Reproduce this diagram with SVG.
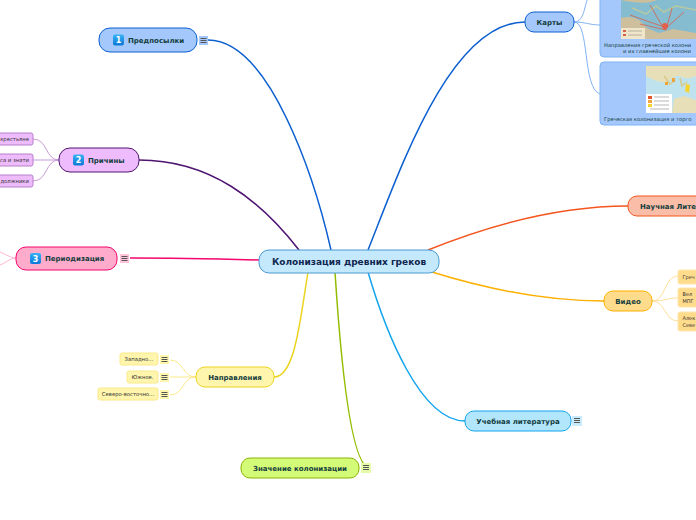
<svg xmlns="http://www.w3.org/2000/svg" width="696" height="520" viewBox="0 0 696 520">
<defs><linearGradient id="bd" x1="0" y1="0" x2="0" y2="1"><stop offset="0" stop-color="#38b2f4"/><stop offset="1" stop-color="#0b78d8"/></linearGradient></defs>
<style>
text{font-family:"DejaVu Sans",Verdana,sans-serif;fill:#143d3d}
.m{font-weight:bold;font-size:7px;text-anchor:middle}
.ml{font-weight:bold;font-size:7px}
.s{font-size:5.300px;text-anchor:middle;fill:#333}
.sl{font-size:5px;fill:#333}
.se{font-size:5.300px;text-anchor:end;fill:#333}
.cap{font-size:5.200px;fill:#143d3d}
.c{fill:none;stroke-width:1.500}
.t{fill:none;stroke-width:1}
.num{font-weight:bold;font-size:8px;fill:#fff;text-anchor:middle}
.b{fill:url(#bd)}
.ic{stroke:#555;stroke-width:1;fill:none}
</style>
<g id="connectors">
<path class="c" stroke="#0b5fd0" d="M331 250C315 180 270 40 208 40"/>
<path class="c" stroke="#4f1470" d="M299 250C260 200 210 160 139 160"/>
<path class="c" stroke="#f5056e" d="M259 260C220 259 170 258 130 258"/>
<path class="c" stroke="#ecd320" d="M308 272C300 320 295 377 274 377"/>
<path class="c" stroke="#93bc00" d="M335 272C340 350 350 468 370 468"/>
<path class="c" stroke="#12a5ee" d="M368 272C385 330 420 421 465 421"/>
<path class="c" stroke="#ffb000" d="M432 272C490 290 550 301 604 301"/>
<path class="c" stroke="#f4551e" d="M428 250C490 225 560 206 628 206"/>
<path class="c" stroke="#0b5fd0" d="M368 250C400 170 450 22 525 22"/>
<g class="t" stroke="#c79ad8">
<path d="M59 160C45 160 48 139 33 139"/><path d="M59 160H33"/><path d="M59 160C45 160 48 181 33 181"/>
</g>
<g class="t" stroke="#ffb6d5">
<path d="M16 258C10 258 6 254 0 252"/><path d="M16 258C10 258 6 263 0 265"/>
</g>
<g class="t" stroke="#fbe98a">
<path d="M196 377C182 377 184 360 170 360"/><path d="M196 377H170"/><path d="M196 377C182 377 184 395 170 395"/>
</g>
<g class="t" stroke="#7fb2f5">
<path d="M574 22C586 22 584 0 590 -5"/><path d="M574 22C585 22 590 25 600 25"/><path d="M574 22C590 22 582 88 600 94"/>
</g>
<g class="t" stroke="#ffdf9a">
<path d="M652 301C666 301 664 276 678 276"/><path d="M652 301C664 301 668 298 678 298"/><path d="M652 301C666 301 664 321 678 321"/>
</g>
</g>
<g id="center"><rect x="259" y="250" width="180" height="23" rx="10" fill="#c4e9fd" stroke="#4a9ad4"/><text x="349" y="265" text-anchor="middle" font-weight="bold" font-size="9" style="fill:#10264f">Колонизация древних греков</text></g>
<g id="predposylki"><rect x="99" y="28" width="98" height="24" rx="11" fill="#a4c8fb" stroke="#0b5fd0"/><rect x="113" y="34.500" width="11" height="11" rx="2" class="b"/><text x="118.500" y="43" class="num">1</text><text x="128" y="43" class="ml">Предпосылки</text><rect x="199" y="36" width="9" height="9" fill="#a4c8fb"/><path class="ic" d="M200.500 38.500h6M200.500 40.500h6M200.500 42.500h6"/></g>
<g id="prichiny"><rect x="59" y="148" width="80" height="24" rx="11" fill="#eebcfc" stroke="#4f1470"/><rect x="73" y="154.500" width="11" height="11" rx="2" class="b"/><text x="78.500" y="163" class="num">2</text><text x="88" y="162.500" class="ml">Причины</text></g>
<g id="pr1"><rect x="-30" y="133" width="63" height="12" rx="2" fill="#eebcfc" stroke="#b77fcb"/><text x="29" y="141" class="se">крестьяне</text></g>
<g id="pr2"><rect x="-30" y="154" width="63" height="12" rx="2" fill="#eebcfc" stroke="#b77fcb"/><text x="29" y="162" class="se">са и знати</text></g>
<g id="pr3"><rect x="-30" y="175" width="63" height="12" rx="2" fill="#eebcfc" stroke="#b77fcb"/><text x="29" y="183" class="se">должники</text></g>
<g id="periodizaciya"><rect x="16" y="247" width="101" height="23" rx="10" fill="#ffaccc" stroke="#f5056e"/><rect x="30" y="253" width="11" height="11" rx="2" class="b"/><text x="35.500" y="261.500" class="num">3</text><text x="45" y="261" class="ml">Периодизация</text><rect x="120" y="254" width="9" height="9" fill="#ffc4da"/><path class="ic" d="M121.500 256.500h6M121.500 258.500h6M121.500 260.500h6"/></g>
<g id="napravleniya"><rect x="196" y="367" width="78" height="20" rx="9" fill="#fff5ad" stroke="#ecd320"/><text x="235" y="380" class="m">Направления</text></g>
<g id="n1"><rect x="120" y="353" width="38" height="12" rx="2" fill="#fff5ad" stroke="#fbe98a"/><text x="139" y="361" class="s">Западно...</text><rect x="160" y="355" width="9" height="9" fill="#fff5ad"/><path class="ic" d="M161.500 357.500h6M161.500 359.500h6M161.500 361.500h6"/></g>
<g id="n2"><rect x="127" y="371" width="31" height="12" rx="2" fill="#fff5ad" stroke="#fbe98a"/><text x="142.500" y="379" class="s">Южное.</text><rect x="160" y="373" width="9" height="9" fill="#fff5ad"/><path class="ic" d="M161.500 375.500h6M161.500 377.500h6M161.500 379.500h6"/></g>
<g id="n3"><rect x="98" y="388" width="60" height="12" rx="2" fill="#fff5ad" stroke="#fbe98a"/><text x="128" y="396" class="s">Северо-восточно...</text><rect x="160" y="390" width="9" height="9" fill="#fff5ad"/><path class="ic" d="M161.500 392.500h6M161.500 394.500h6M161.500 396.500h6"/></g>
<g id="znachenie"><rect x="241" y="458" width="118" height="20" rx="9" fill="#d4fb78" stroke="#8cb400"/><text x="300" y="471" class="m">Значение колонизации</text><rect x="361" y="463" width="10" height="10" fill="#e4fca8"/><path class="ic" d="M363 465.500h6M363 467.500h6M363 469.500h6"/></g>
<g id="uchebnaya"><rect x="465" y="411" width="106" height="20" rx="9" fill="#b2e6fc" stroke="#12a5ee"/><text x="518" y="424" class="m">Учебная литература</text><rect x="572" y="416" width="10" height="10" fill="#c8ecfc"/><path class="ic" d="M574 418.500h6M574 420.500h6M574 422.500h6"/></g>
<g id="video"><rect x="604" y="291" width="48" height="20" rx="9" fill="#ffdb8c" stroke="#ffb000"/><text x="628" y="304" class="m">Видео</text></g>
<g id="v1"><rect x="678" y="270" width="30" height="14" rx="2" fill="#ffdb8c" stroke="#ffe7ad"/><text x="682.500" y="279" class="sl">Греч</text></g>
<g id="v2"><rect x="678" y="288" width="30" height="19" rx="2" fill="#ffdb8c" stroke="#ffe7ad"/><text x="682.500" y="296" class="sl">Вел</text><text x="682.500" y="303" class="sl">МПГ</text></g>
<g id="v3"><rect x="678" y="312" width="30" height="19" rx="2" fill="#ffdb8c" stroke="#ffe7ad"/><text x="682.500" y="320" class="sl">Алек</text><text x="682.500" y="327" class="sl">Севе</text></g>
<g id="nauchnaya"><rect x="628" y="196" width="90" height="20" rx="9" fill="#f9bda8" stroke="#f4551e"/><text x="640" y="209" class="ml">Научная Лите</text></g>
<g id="karty"><rect x="525" y="12" width="49" height="20" rx="9" fill="#a4c8fb" stroke="#0b5fd0"/><text x="549.500" y="25" class="m">Карты</text></g>
<g id="map1"><rect x="600" y="-10" width="110" height="67" rx="4" fill="#a4c8fb" stroke="#7fb2f5"/>
<rect x="621" y="-5" width="75" height="44" fill="#86bccf"/>
<path d="M621 -5h75v3q-12 3-22 1t-20 2-33-1zM621 18q10-3 18 2l8 8 12 5 14-4 23 4v6h-75z" fill="#cdbf9c"/>
<path d="M632 8l14 6 10-8 8 6 12-6 20 4" fill="none" stroke="#b8c9a0" stroke-width="1.500"/>
<path d="M630 15l34 12M650 5l14 24M684 12l-20 18M640 24l26 6M672 8l-6 22" stroke="#d8604a" fill="none" stroke-width=".8"/>
<circle cx="665" cy="26" r="3" fill="#e2604c"/>
<rect x="621" y="28" width="24" height="11" fill="#efe6cc"/>
<path d="M623 30h3v2h-3zM623 34h3v2h-3z" fill="#d8604a"/><path d="M628 31h14M628 35h14" stroke="#a09a88" stroke-width=".7"/>
<text x="604" y="47" class="cap">Направления греческой колони</text><text x="623" y="53" class="cap">и их главнейшие колони</text></g>
<g id="map2"><rect x="600" y="62" width="110" height="63" rx="4" fill="#a4c8fb" stroke="#7fb2f5"/>
<rect x="646" y="66" width="50" height="47" fill="#bfe3ee"/>
<path d="M646 66h50v10q-8 4-14 1t-12 3-24-4z" fill="#e6dfb8"/>
<path d="M672 113l2-14 10-3 12 4v13z" fill="#e6dfb8"/>
<path d="M664 76l6 8 4-3M680 78l2 8 5-4" fill="none" stroke="#d9c98a" stroke-width="1.500"/>
<path d="M686 84l4 1-1 8-4-2z" fill="#f6d32d"/><path d="M672 78h3v4h-3zM665 82h3v3h-3z" fill="#f2a33a"/>
<rect x="646" y="94" width="26" height="19" fill="#fff"/>
<path d="M648 96h4v3h-4z" fill="#e4572e"/><path d="M648 100h4v3h-4z" fill="#f2a33a"/><path d="M648 104h4v3h-4z" fill="#f6d32d"/>
<path d="M654 97h15M654 101h15M654 105h15M650 109h19" stroke="#999" stroke-width=".7"/>
<text x="604" y="121" class="cap">Греческая колонизация и торго</text></g>
</svg>
